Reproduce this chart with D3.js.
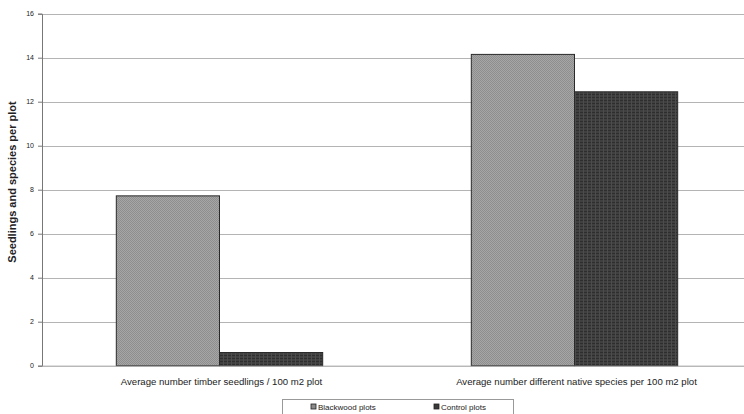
<!DOCTYPE html>
<html>
<head>
<meta charset="utf-8">
<script src="https://cdn.jsdelivr.net/npm/d3@7"></script>
<style>
  body { margin: 0; background: #fff; }
  svg { display: block; font-family: "Liberation Sans", Arial, sans-serif; }
</style>
</head>
<body>
<div id="chart"></div>
<script>
var categories = ["Average number timber seedlings / 100 m2 plot",
                  "Average number different native species per 100 m2 plot"];
var seriesNames = ["Blackwood plots", "Control plots"];
var blackwood = [7.72, 14.15];
var control = [0.6, 12.45];
var yTicks = [0, 2, 4, 6, 8, 10, 12, 14, 16];

function init(){
    var w = 744;
    var h = 414;
    var left = 42, top = 13.7, bottom = 365.7;

    var svg = d3.select("#chart").append("svg")
        .attr("width", w)
        .attr("height", h);

    // textures to mimic the scanned fills
    var defs = svg.append("defs");
    var p1 = defs.append("pattern").attr("id", "pBlack")
        .attr("patternUnits", "userSpaceOnUse").attr("width", 2).attr("height", 2);
    p1.append("rect").attr("width", 2).attr("height", 2).attr("fill", "#a6a6a6");
    p1.append("rect").attr("width", 1).attr("height", 1).attr("fill", "#8e8e8e");
    p1.append("rect").attr("x", 1).attr("y", 1).attr("width", 1).attr("height", 1).attr("fill", "#8e8e8e");

    var p2 = defs.append("pattern").attr("id", "pControl")
        .attr("patternUnits", "userSpaceOnUse").attr("width", 4).attr("height", 3);
    p2.append("rect").attr("width", 4).attr("height", 3).attr("fill", "#404040");
    p2.append("rect").attr("y", 1).attr("width", 4).attr("height", 1).attr("fill", "#2e2e2e");
    p2.append("rect").attr("x", 3).attr("width", 1).attr("height", 3).attr("fill", "#4c4c4c");

    var yScale = d3.scaleLinear().domain([0, 16]).range([bottom, top]);

    var xScale = d3.scaleBand()
        .domain(categories)
        .range([left, left + 710])
        .paddingInner(0)
        .paddingOuter(0);

    var xSub = d3.scaleBand()
        .domain(seriesNames)
        .range([0, xScale.bandwidth()])
        .paddingOuter(0.72)
        .paddingInner(0);

    // gridlines
    svg.append("g").selectAll("line")
        .data(yTicks.slice(1))
        .enter().append("line")
        .attr("x1", left).attr("x2", w)
        .attr("y1", function(d){ return Math.round(yScale(d)) + 0.5; })
        .attr("y2", function(d){ return Math.round(yScale(d)) + 0.5; })
        .attr("stroke", "#b4b4b4")
        .attr("stroke-width", 1);

    // bars
    var fills = ["url(#pBlack)", "url(#pControl)"];
    var values = [blackwood, control];
    seriesNames.forEach(function(s, si){
        svg.append("g").selectAll("rect")
            .data(categories)
            .enter().append("rect")
            .attr("x", function(d){ return xScale(d) + xSub(s); })
            .attr("width", xSub.bandwidth())
            .attr("y", function(d, i){ return yScale(values[si][i]); })
            .attr("height", function(d, i){ return bottom - yScale(values[si][i]); })
            .attr("fill", fills[si])
            .attr("stroke", "#2a2a2a")
            .attr("stroke-width", 1);
    });

    // y axis
    var yAxis = d3.axisLeft(yScale).tickValues(yTicks).tickSize(4).tickPadding(4);
    var yg = svg.append("g")
        .attr("transform", "translate(" + left + ",0)")
        .call(yAxis);
    yg.selectAll("path, line").attr("stroke", "#777");
    yg.selectAll("text").attr("font-size", "7px").attr("fill", "#222")
        .attr("font-family", "Liberation Sans, Arial, sans-serif");

    // x baseline
    svg.append("line")
        .attr("x1", left).attr("x2", w)
        .attr("y1", bottom + 0.5).attr("y2", bottom + 0.5)
        .attr("stroke", "#999");

    // category labels
    svg.append("g").selectAll("text")
        .data(categories)
        .enter().append("text")
        .attr("x", function(d){ return xScale(d) + xScale.bandwidth() / 2 + 2; })
        .attr("y", 384.5)
        .attr("text-anchor", "middle")
        .attr("font-size", "9.6px")
        .attr("fill", "#222")
        .text(function(d){ return d; });

    // y axis title
    svg.append("text")
        .attr("transform", "translate(16,182) rotate(-90)")
        .attr("text-anchor", "middle")
        .attr("font-size", "11px")
        .attr("font-weight", "bold")
        .attr("fill", "#222")
        .text("Seedlings and species per plot");

    // legend
    var lg = svg.append("g");
    lg.append("rect")
        .attr("x", 282.5).attr("y", 399.5)
        .attr("width", 231).attr("height", 20)
        .attr("fill", "#fff")
        .attr("stroke", "#999");
    var lx = [311, 434];
    seriesNames.forEach(function(s, i){
        lg.append("rect")
            .attr("x", lx[i]).attr("y", 404)
            .attr("width", 5).attr("height", 5)
            .attr("fill", i === 0 ? "#8a8a8a" : "#3a3a3a")
            .attr("stroke", "#222").attr("stroke-width", 0.8);
        lg.append("text")
            .attr("x", lx[i] + 7).attr("y", 409.5)
            .attr("font-size", "8px")
            .attr("fill", "#222")
            .text(s);
    });
}
window.onload = init;
</script>
</body>
</html>
